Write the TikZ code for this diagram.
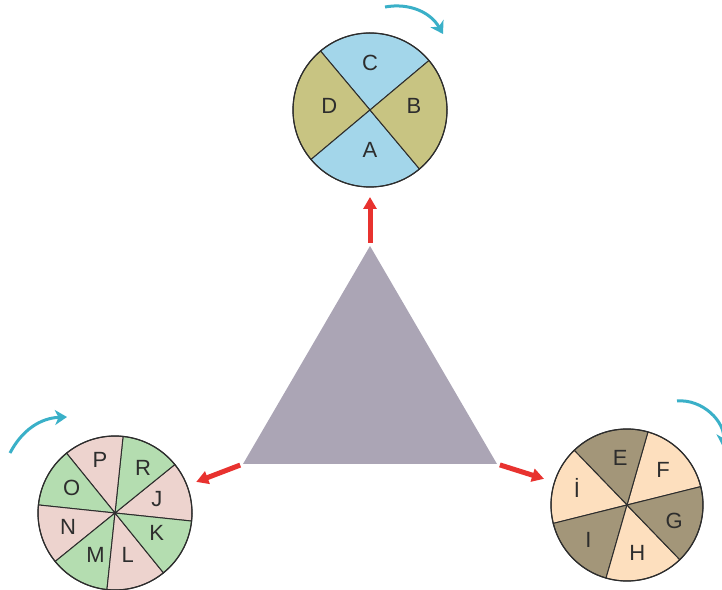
\documentclass[tikz,border=0pt]{standalone}
\usepackage{fontspec}
\setmainfont{Liberation Sans}
\usetikzlibrary{arrows.meta,calc}
\definecolor{ink}{RGB}{45,45,45}
\definecolor{sky}{RGB}{163,214,234}
\definecolor{moss}{RGB}{200,196,130}
\definecolor{rose}{RGB}{237,211,206}
\definecolor{mint}{RGB}{180,221,176}
\definecolor{umber}{RGB}{163,150,121}
\definecolor{peach}{RGB}{253,223,190}
\definecolor{slate}{RGB}{171,165,181}
\definecolor{spinc}{RGB}{58,176,200}
\definecolor{pushc}{RGB}{232,50,47}
\tikzset{
  wheel/.style={draw=ink, line width=1.2pt, circle, inner sep=0pt, minimum size=154pt},
  sector/.style={draw=ink, line width=1pt, line join=round},
  letter/.style={text=ink, font=\fontsize{22}{26}\selectfont, inner sep=0pt},
  spin/.style={draw=spinc, line width=3pt, -{Stealth[length=12pt, width=15pt, inset=3.5pt]}},
  push/.style={draw=pushc, line width=5pt, -{Triangle[length=12pt, width=13pt]}},
  base/.style={fill=slate}
}

\begin{document}
\begin{tikzpicture}[x=1pt, y=1pt]
  \useasboundingbox (0,0) rectangle (722,589);
  \coordinate (c4) at (370,479);
  \coordinate (c8) at (115,76);
  \coordinate (c6) at (627,84);
  % triangle
  \coordinate (apex) at (370,343);
  \coordinate (bl) at (243,125);
  \coordinate (br) at (497,125);
  \fill[base] (apex) -- (bl) -- (br) -- cycle;
  % four-part wheel
  \foreach \a/\f/\t/\b/\r in {40/sky/C/90/47, 130/moss/D/174/41, 220/sky/A/270/40, 310/moss/B/5/44}{
    \filldraw[sector, fill=\f] (c4) -- ++(\a:77) arc[start angle=\a, delta angle=90, radius=77] -- cycle;
    \path (c4) ++(\b:\r) node[letter] {\t};
  }
  \node[wheel] (four) at (c4) {};
  % eight-part wheel
  \foreach \a/\f/\t/\b/\r in {-6/rose/J/18/44, 39/mint/R/58/53, 84/rose/P/106/55, 129/mint/O/150/50,
      174/rose/N/197/49, 219/mint/M/245/46, 264/rose/L/287/44, 309/mint/K/-25/46}{
    \filldraw[sector, fill=\f] (c8) -- ++(\a:77) arc[start angle=\a, delta angle=45, radius=77] -- cycle;
    \path (c8) ++(\b:\r) node[letter] {\t};
  }
  \node[wheel] (eight) at (c8) {};
  % six-part wheel
  \foreach \a/\f/\t/\b/\r in {14/peach/F/44/50, 74/umber/E/98/48, 134/peach/İ/161/53,
      194/umber/I/222/52, 254/peach/H/282/49, 314/umber/G/-19/50}{
    \filldraw[sector, fill=\f] (c6) -- ++(\a:76) arc[start angle=\a, delta angle=60, radius=76] -- cycle;
    \path (c6) ++(\b:\r) node[letter] {\t};
  }
  \node[wheel, minimum size=152pt] (six) at (c6) {};
  % push arrows
  \draw[push] ($(apex)!3pt!(four)$) -- ($(four)!87pt!(apex)$);
  \draw[push] ($(bl)!3pt!(eight)$) -- ($(eight)!87pt!(bl)$);
  \draw[push] ($(br)!3pt!(six)$) -- ($(six)!87pt!(br)$);
  % turning arrows
  \draw[spin] (385,582) to[bend left=35] (443,555);
  \draw[spin] (10,136) to[bend left=30] (67,172);
  \draw[spin] (677,188) to[bend left=50] (723,142);
\end{tikzpicture}
\end{document}
